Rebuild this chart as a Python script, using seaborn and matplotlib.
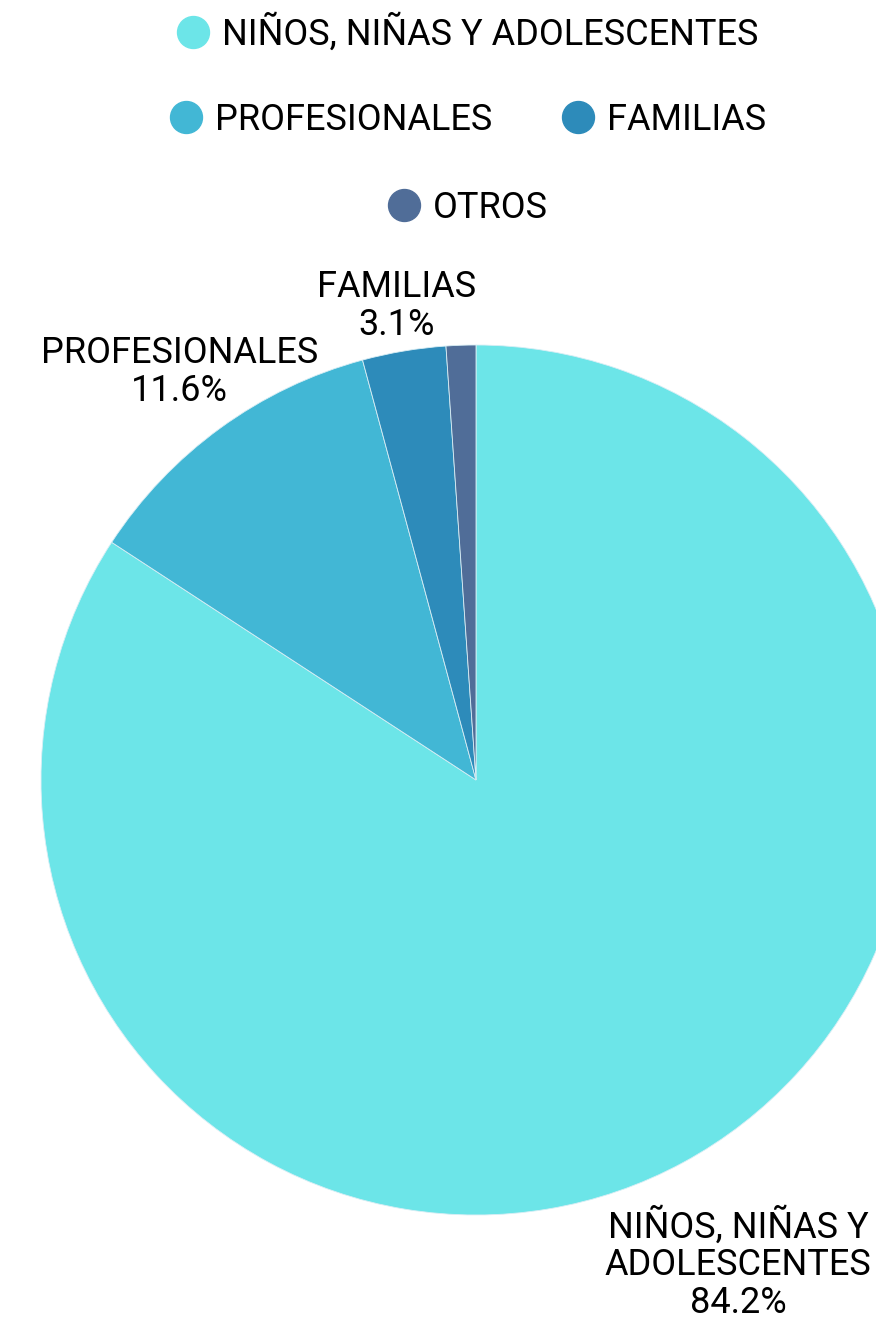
import numpy as np
import seaborn as sns
import matplotlib.pyplot as plt
from matplotlib.lines import Line2D

# data
categories = ["NIÑOS, NIÑAS Y ADOLESCENTES", "PROFESIONALES", "FAMILIAS", "OTROS"]
slice_labels = ["NIÑOS, NIÑAS Y\nADOLESCENTES", "PROFESIONALES", "FAMILIAS", None]
values = [84.2, 11.6, 3.1, 1.1]
colors = ["#6ce5e8", "#42b7d5", "#2d8bba", "#506d98"]

# styling
label_dist = [1.265, 1.16, 1.105, 1.1]
FONTSIZE = 26

sns.set_theme(style="white")
plt.rcParams["font.family"] = ["Roboto", "DejaVu Sans"]
plt.rcParams["text.color"] = "black"
palette = sns.color_palette(colors)

fig = plt.figure(figsize=(8.76, 13.24), dpi=100)
W, H = 876, 1324
cx, cy, r = 476, 780, 435
ax = fig.add_axes([(cx - r) / W, (H - cy - r) / H, 2 * r / W, 2 * r / H])

wedges, _ = ax.pie(
    values,
    colors=palette,
    startangle=90,
    counterclock=False,
    radius=1,
    wedgeprops=dict(edgecolor="#d8eef5", linewidth=0.6),
)
ax.set_xlim(-1, 1)
ax.set_ylim(-1, 1)
ax.axis("off")

for w, lab, v, d in zip(wedges, slice_labels, values, label_dist):
    if lab is None:
        continue
    ang = np.deg2rad((w.theta1 + w.theta2) / 2)
    ax.text(
        d * np.cos(ang), d * np.sin(ang), f"{lab}\n{v:.1f}%",
        ha="center", va="center", fontsize=FONTSIZE, color="black",
        linespacing=1.06, clip_on=False,
    )

# legend, wrapped in rows
rows = [[0], [1, 2], [3]]
row_y = [33, 120, 208]
for idx, y in zip(rows, row_y):
    handles = [
        Line2D([], [], marker="o", linestyle="none", markersize=23,
               markerfacecolor=palette[i], markeredgecolor=palette[i], label=categories[i])
        for i in idx
    ]
    leg = fig.legend(
        handles=handles, loc="center", bbox_to_anchor=(467 / W, 1 - y / H),
        ncol=len(idx), frameon=False, fontsize=FONTSIZE,
        handletextpad=0.3, columnspacing=1.9, handlelength=1.0,
    )
    for t in leg.get_texts():
        t.set_color("black")

fig.savefig("out.png", dpi=100)
